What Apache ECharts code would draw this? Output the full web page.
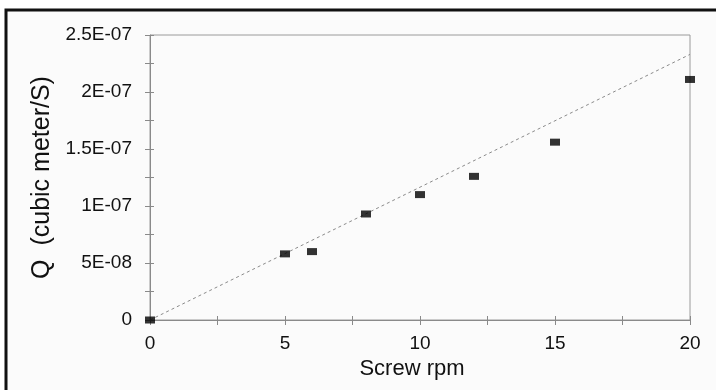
<!DOCTYPE html>
<html>
<head>
<meta charset="utf-8">
<script src="https://cdn.jsdelivr.net/npm/echarts@6/dist/echarts.min.js"></script>
<style>
  html, body { margin: 0; padding: 0; background: #fff; }
  #chart { width: 716px; height: 390px; }
</style>
</head>
<body>
<div id="chart"></div>
<script>
// measured points (screw speed vs flow rate)
const rpm = [0, 5, 6, 8, 10, 12, 15, 20];
const flow = [0, 5.8e-8, 6.0e-8, 9.3e-8, 1.1e-7, 1.26e-7, 1.56e-7, 2.11e-7];

// dashed trend line ends
const trendX = [0, 20];
const trendY = [0, 2.33e-7];

const yTickLabels = ['0', '5E-08', '1E-07', '1.5E-07', '2E-07', '2.5E-07'];
const xTickLabels = ['0', '5', '10', '15', '20'];

const font = '"Liberation Sans", Arial, sans-serif';
const axisGrey = '#8a8a8a';
const ink = '#111';

const chart = echarts.init(document.getElementById('chart'));

chart.setOption({
  backgroundColor: '#fff',
  animation: false,
  graphic: [
    {
      type: 'rect',
      z: -100,
      shape: { x: 6, y: 10, width: 780, height: 420 },
      style: { fill: '#fbfbfb', stroke: '#111', lineWidth: 3 }
    }
  ],
  grid: {
    left: 150,
    right: 26,
    top: 35,
    bottom: 70,
    show: true,
    borderColor: '#9a9a9a',
    borderWidth: 1,
    backgroundColor: 'transparent'
  },
  xAxis: [
    {
      type: 'value',
      min: 0,
      max: 20,
      interval: 5,
      name: 'Screw rpm',
      nameLocation: 'middle',
      nameGap: 35,
      nameTextStyle: { fontFamily: font, fontSize: 22, color: ink, padding: [0, 16, 0, 0] },
      axisLine: { lineStyle: { color: axisGrey, width: 1 } },
      axisTick: { show: true, length: 5, lineStyle: { color: axisGrey } },
      minorTick: { show: true, splitNumber: 2, length: 5, lineStyle: { color: axisGrey } },
      splitLine: { show: false },
      axisLabel: {
        margin: 14,
        fontFamily: font,
        fontSize: 19,
        color: ink,
        formatter: v => xTickLabels[Math.round(v / 5)]
      }
    },
    {
      type: 'value',
      position: 'bottom',
      min: 0,
      max: 20,
      interval: 5,
      axisLine: { show: false },
      axisTick: { show: true, inside: true, length: 4, lineStyle: { color: axisGrey } },
      minorTick: { show: true, splitNumber: 2, length: 4, lineStyle: { color: axisGrey } },
      splitLine: { show: false },
      axisLabel: { show: false }
    }
  ],
  yAxis: [
    {
      type: 'value',
      min: 0,
      max: 2.5e-7,
      interval: 5e-8,
      name: 'Q  (cubic meter/S)',
      nameLocation: 'middle',
      nameGap: 95,
      nameTextStyle: { fontFamily: font, fontSize: 25, color: ink },
      axisLine: { show: true, lineStyle: { color: axisGrey, width: 1 } },
      axisTick: { show: true, length: 5, lineStyle: { color: axisGrey } },
      minorTick: { show: true, splitNumber: 2, length: 5, lineStyle: { color: axisGrey } },
      splitLine: { show: false },
      axisLabel: {
        margin: 18,
        fontFamily: font,
        fontSize: 19,
        color: ink,
        formatter: v => yTickLabels[Math.round(v / 5e-8)]
      }
    },
    {
      type: 'value',
      position: 'left',
      min: 0,
      max: 2.5e-7,
      interval: 5e-8,
      axisLine: { show: false },
      axisTick: { show: true, inside: true, length: 4, lineStyle: { color: axisGrey } },
      minorTick: { show: true, splitNumber: 2, length: 4, lineStyle: { color: axisGrey } },
      splitLine: { show: false },
      axisLabel: { show: false }
    }
  ],
  series: [
    {
      type: 'line',
      data: trendX.map((x, i) => [x, trendY[i]]),
      symbol: 'none',
      lineStyle: { color: '#8a8a8a', width: 1, type: [3, 3] },
      z: 2
    },
    {
      type: 'scatter',
      data: rpm.map((x, i) => [x, flow[i]]),
      symbol: 'rect',
      symbolSize: [10, 7],
      itemStyle: { color: '#000' },
      z: 3
    }
  ]
});

window.addEventListener('resize', () => chart.resize());
</script>
</body>
</html>
